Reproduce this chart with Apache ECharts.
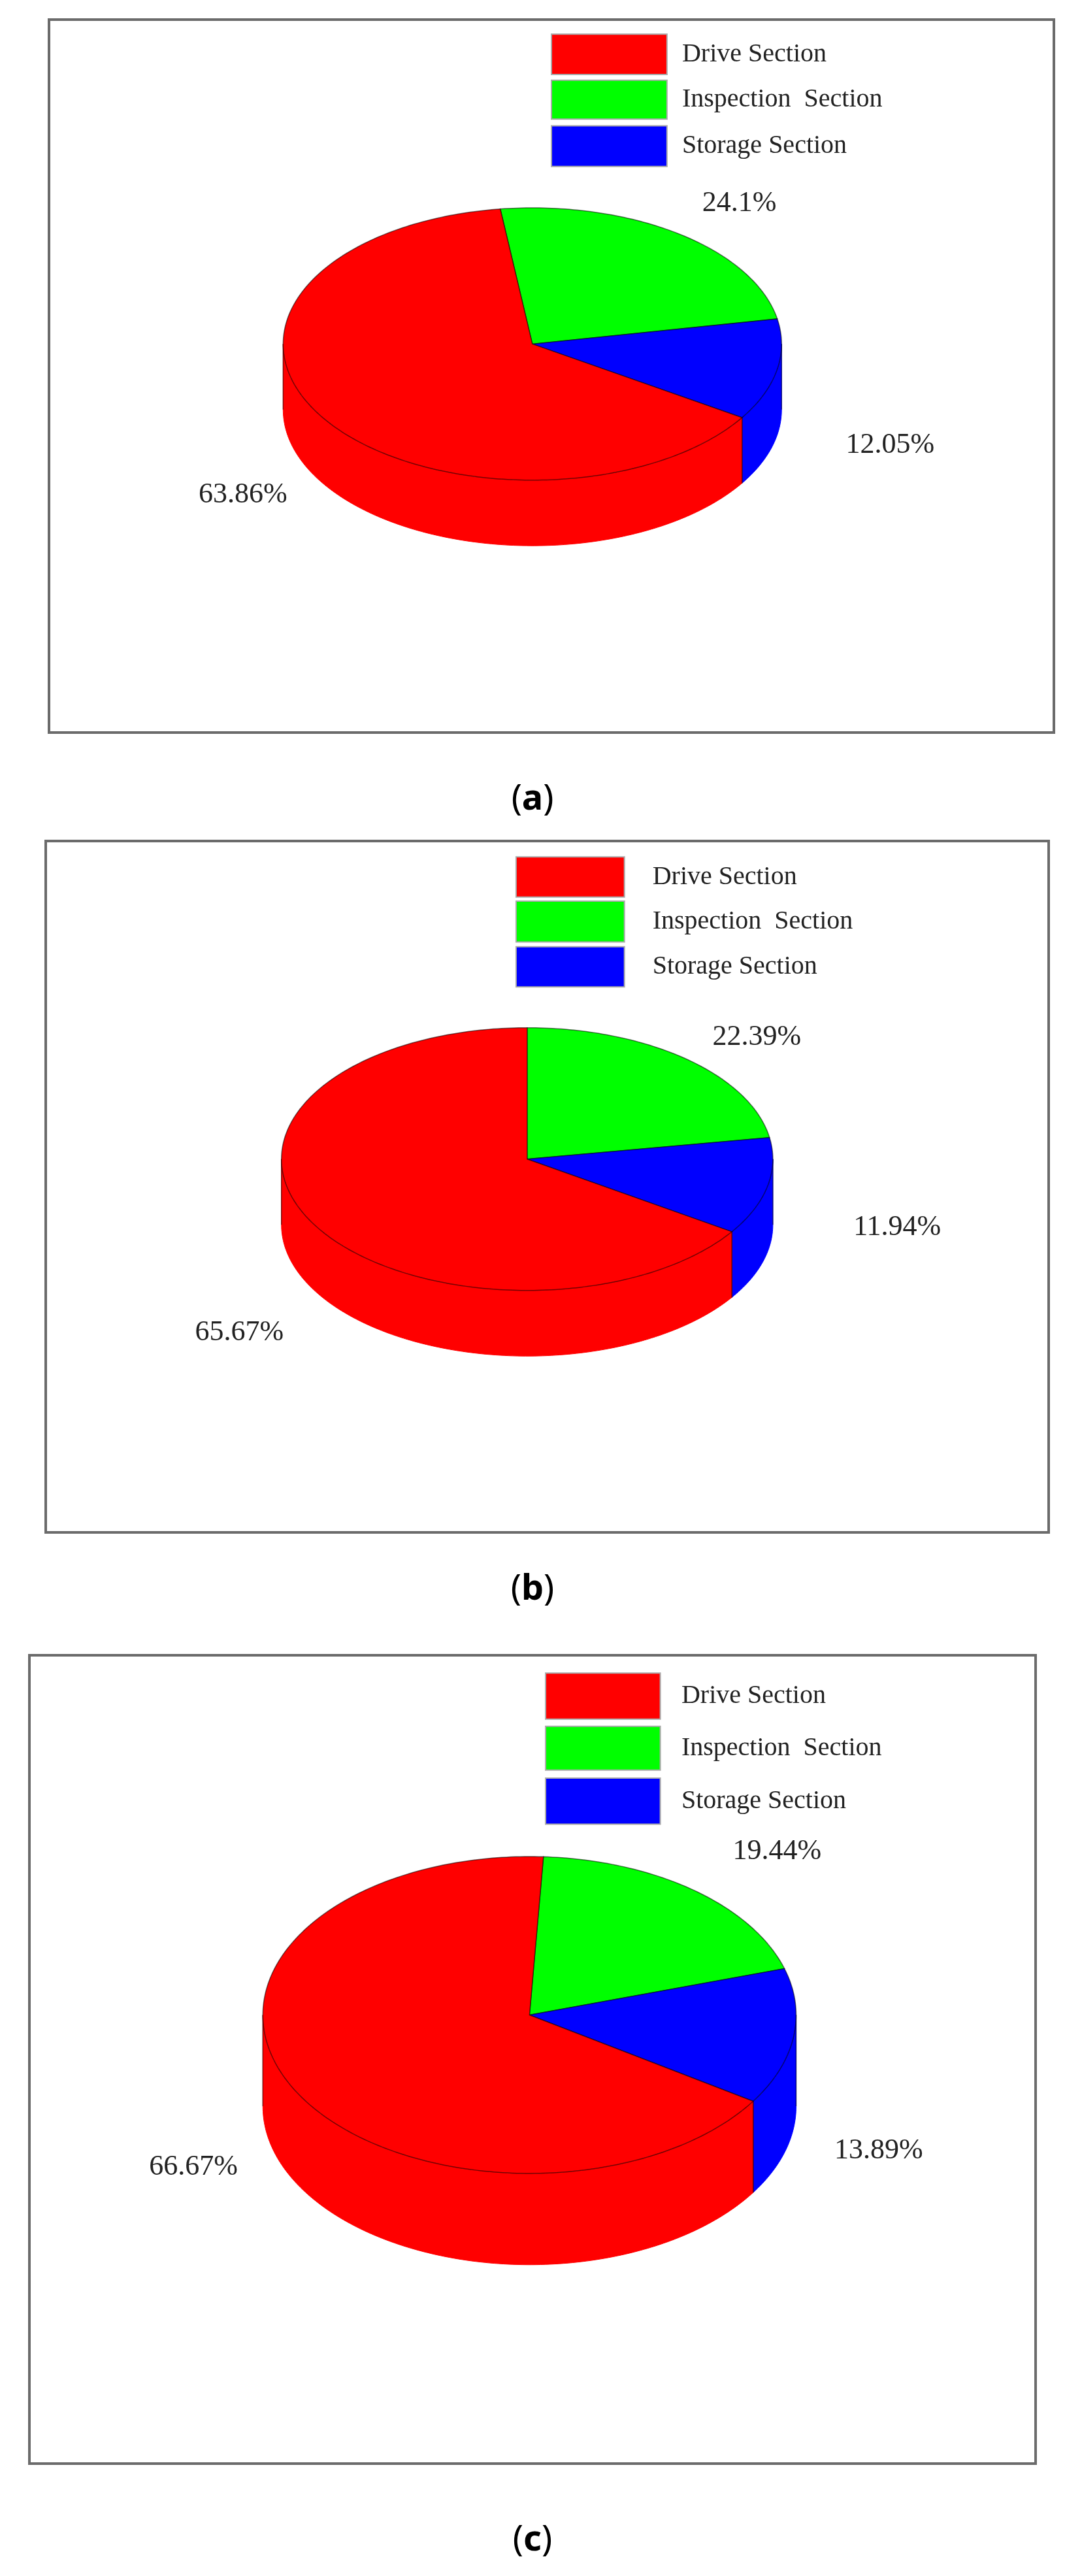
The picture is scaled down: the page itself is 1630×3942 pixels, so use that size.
<!DOCTYPE html>
<html><head><meta charset="utf-8">
<script src="https://cdn.jsdelivr.net/npm/echarts@6/dist/echarts.min.js"></script>
<style>html,body{margin:0;padding:0;background:#fff}#c{width:1630px;height:3942px}</style>
</head><body><div id="c"></div>
<script>
const categories = ['Drive Section', 'Inspection  Section', 'Storage Section'];
const colors = ['#ff0000', '#00ff00', '#0000ff'];
// values per panel: [Drive, Inspection, Storage]
const valuesA = [63.86, 24.1, 12.05];
const valuesB = [65.67, 22.39, 11.94];
const valuesC = [66.67, 19.44, 13.89];
const panelLabels = ['a', 'b', 'c'];

// layout (positions / styles)
const panels = [
  {vals: valuesA, box: [75, 30, 1538, 1091], start: -97.4, capY: 1224,
   pf: {cx: 0.481, l: 0.233, r: 0.729, top: 0.264, cy: 0.455, sb: 0.738},
   leg: [0.50, 0.615, [[0.0205, 0.077], [0.085, 0.1395], [0.149, 0.206]], 0.63],
   lab: [[0.193, 0.667], [0.687, 0.258], [0.837, 0.597]]},
  {vals: valuesB, box: [70, 1287, 1535, 1058], start: -90, capY: 2433,
   pf: {cx: 0.48, l: 0.235, r: 0.725, top: 0.27, cy: 0.46, sb: 0.745},
   leg: [0.469, 0.577, [[0.023, 0.081], [0.087, 0.146], [0.153, 0.211]], 0.605],
   lab: [[0.193, 0.711], [0.709, 0.284], [0.849, 0.559]]},
  {vals: valuesC, box: [45, 2533, 1540, 1237], start: -87, capY: 3888,
   pf: {cx: 0.497, l: 0.231, r: 0.761, top: 0.249, cy: 0.445, sb: 0.754},
   leg: [0.513, 0.627, [[0.022, 0.079], [0.088, 0.142], [0.152, 0.209]], 0.648],
   lab: [[0.163, 0.633], [0.743, 0.243], [0.844, 0.613]]}
];

const chart = echarts.init(document.getElementById('c'), null, {renderer: 'canvas'});
const D = Math.PI / 180;
const graphics = [];
const series = [];
const SERIF = '"Liberation Serif", "DejaVu Serif", serif';

panels.forEach((p, pi) => {
  const [bx, by, bw, bh] = p.box;
  const PF = p.pf;
  graphics.push({type: 'rect', shape: {x: bx, y: by, width: bw, height: bh},
    style: {fill: 'transparent', stroke: '#6b6b6b', lineWidth: 4}, z: 0});
  const [lx0, lx1, rows, tx] = p.leg;
  categories.forEach((c, i) => {
    graphics.push({type: 'rect', shape: {x: bx + lx0 * bw, y: by + rows[i][0] * bh,
      width: (lx1 - lx0) * bw, height: (rows[i][1] - rows[i][0]) * bh},
      style: {fill: colors[i], stroke: '#aaa', lineWidth: 2}, z: 5});
    graphics.push({type: 'text', x: bx + tx * bw, y: by + (rows[i][0] + rows[i][1]) / 2 * bh,
      style: {text: c, fontSize: 40, fontFamily: SERIF, fill: '#222', verticalAlign: 'middle'}, z: 5});
  });
  graphics.push({type: 'text', x: 815, y: p.capY, style: {
    text: '({b|' + panelLabels[pi] + '})', fontSize: 54, fontFamily: 'Noto Sans', fill: '#000',
    align: 'center', verticalAlign: 'middle',
    rich: {b: {fontSize: 54, fontFamily: 'Noto Sans', fontWeight: 'bold', fill: '#000'}}}, z: 5});
  p.vals.forEach((v, i) => {
    graphics.push({type: 'text', x: bx + p.lab[i][0] * bw, y: by + p.lab[i][1] * bh,
      style: {text: v + '%', fontSize: 44, fontFamily: SERIF, fill: '#222', align: 'center', verticalAlign: 'middle'}, z: 5});
  });

  const order = [1, 2, 0];
  const total = p.vals.reduce((a, b) => a + b, 0);
  let acc = p.start;
  const data = [];
  order.forEach(i => {
    const span = p.vals[i] / total * 360;
    data.push({value: [acc, acc + span, i]});
    acc += span;
  });
  const cx = bx + PF.cx * bw, cy = by + PF.cy * bh;
  const rx = (PF.r - PF.l) / 2 * bw, ry = (PF.cy - PF.top) * bh, dep = (PF.sb - PF.cy) * bh - ry;
  const pt = (a, dy) => [cx + rx * Math.cos(a * D), cy + ry * Math.sin(a * D) + (dy || 0)];
  const arc = (a0, a1, dy) => { const out = []; const n = Math.max(2, Math.ceil(Math.abs(a1 - a0)));
    for (let k = 0; k <= n; k++) out.push(pt(a0 + (a1 - a0) * k / n, dy)); return out; };
  series.push({
    type: 'custom', coordinateSystem: 'none', data: data, silent: true, z: 3,
    renderItem: (params, api) => {
      const s = api.value(0), e = api.value(1), ci = api.value(2);
      const children = [];
      for (let k = -1; k <= 1; k++) {
        const lo = Math.max(s, k * 360), hi = Math.min(e, k * 360 + 180);
        if (hi > lo) {
          const top = arc(lo, hi, 0), bot = arc(hi, lo, dep);
          children.push({type: 'polygon', shape: {points: top.concat(bot)},
            style: {fill: colors[ci], stroke: colors[ci], lineWidth: 1}});
          children.push({type: 'polyline', shape: {points: [pt(lo), pt(lo, dep)]},
            style: {stroke: 'rgba(0,0,0,0.5)', lineWidth: 1.5, fill: null}});
          children.push({type: 'polyline', shape: {points: [pt(hi), pt(hi, dep)]},
            style: {stroke: 'rgba(0,0,0,0.5)', lineWidth: 1.5, fill: null}});
        }
      }
      children.push({type: 'polygon', shape: {points: [[cx, cy]].concat(arc(s, e, 0))},
        style: {fill: colors[ci], stroke: 'rgba(0,0,0,0.55)', lineWidth: 1.5}, z2: 10});
      return {type: 'group', children: children};
    }
  });
});

chart.setOption({animation: false, backgroundColor: '#fff', graphic: {elements: graphics}, series: series});
</script></body></html>
